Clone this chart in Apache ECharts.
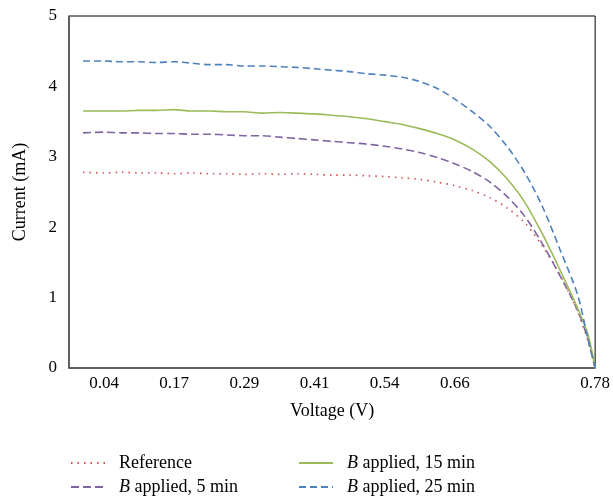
<!DOCTYPE html>
<html>
<head>
<meta charset="utf-8">
<script src="https://cdn.jsdelivr.net/npm/echarts@6/dist/echarts.min.js"></script>
<style>html,body{margin:0;padding:0;background:#fff}#c{width:613px;height:504px}</style>
</head>
<body>
<div id="c"></div>
<script>
// x positions in label-step units (0 => "0.04", 7 => "0.78")
var xPos = [-0.3, 0, 0.25, 0.5, 0.75, 1, 1.25, 1.5, 1.75, 2, 2.25, 2.5, 2.75, 3, 3.25, 3.5, 3.75, 4, 4.25, 4.5, 4.75, 5, 5.25, 5.5, 5.75, 6, 6.25, 6.5, 6.75, 6.9, 7];
var xTickPos = [0, 1, 2, 3, 4, 5, 7];
var xTickLabels = ['0.04', '0.17', '0.29', '0.41', '0.54', '0.66', '0.78'];
var yTicks = [0, 1, 2, 3, 4, 5];

var seriesNames = ['Reference', 'B applied, 5 min', 'B applied, 15 min', 'B applied, 25 min'];
var refVals = [2.78, 2.77, 2.78, 2.77, 2.77, 2.76, 2.77, 2.76, 2.76, 2.75, 2.76, 2.75, 2.76, 2.75, 2.74, 2.74, 2.73, 2.72, 2.70, 2.68, 2.64, 2.59, 2.52, 2.42, 2.27, 2.06, 1.73, 1.32, 0.80, 0.38, 0];
var b5Vals = [3.34, 3.35, 3.34, 3.34, 3.33, 3.33, 3.32, 3.32, 3.31, 3.30, 3.30, 3.28, 3.26, 3.24, 3.22, 3.20, 3.18, 3.15, 3.11, 3.06, 2.99, 2.90, 2.79, 2.64, 2.43, 2.15, 1.76, 1.31, 0.82, 0.40, 0];
var b15Vals = [3.65, 3.65, 3.65, 3.66, 3.66, 3.67, 3.65, 3.65, 3.64, 3.64, 3.62, 3.63, 3.62, 3.61, 3.59, 3.57, 3.54, 3.50, 3.46, 3.40, 3.33, 3.24, 3.11, 2.93, 2.68, 2.35, 1.90, 1.39, 0.85, 0.47, 0];
var b25Vals = [4.36, 4.36, 4.35, 4.35, 4.34, 4.35, 4.33, 4.31, 4.31, 4.29, 4.29, 4.28, 4.27, 4.25, 4.23, 4.21, 4.18, 4.16, 4.13, 4.07, 3.97, 3.82, 3.64, 3.43, 3.14, 2.77, 2.29, 1.68, 1.04, 0.40, 0];

var colors = ['#d0504d', '#8064a2', '#9bbb59', '#4f81bd'];
var dashTypes = [[1.5, 5], [8, 4], 'solid', [7, 4]];
var allVals = [refVals, b5Vals, b15Vals, b25Vals];

var FONT = 'Liberation Serif';

function pairs(vals) { return xPos.map(function (x, i) { return [x, vals[i]]; }); }

var series = seriesNames.map(function (n, k) {
  return {
    name: n, type: 'line', data: pairs(allVals[k]), symbol: 'none',
    smooth: 0.3,
    lineStyle: { color: colors[k], width: 1.6, type: dashTypes[k] },
    itemStyle: { color: colors[k] }
  };
});

function legendFmt(name) { return name.replace(/^B /, '{i|B} '); }
var legendText = {
  fontFamily: FONT, fontSize: 18, lineHeight: 18, color: '#000', padding: [0, 0, 0, 9],
  rich: { i: { fontFamily: FONT, fontSize: 18, lineHeight: 18, fontStyle: 'italic', color: '#000' } }
};

function mkLegend(names, left) {
  return { data: names, orient: 'vertical', left: left, top: 454, height: 50, padding: 0,
    itemWidth: 34, itemHeight: 12, itemGap: 6, formatter: legendFmt, textStyle: legendText,
    itemStyle: { opacity: 0 } };
}

var chart = echarts.init(document.getElementById('c'), null, { renderer: 'canvas' });
chart.setOption({
  animation: false,
  backgroundColor: '#fff',
  grid: { left: 69, right: 16, top: 16, bottom: 136, show: true, borderColor: '#000', borderWidth: 1, backgroundColor: 'transparent' },
  xAxis: {
    type: 'value', min: -0.5, max: 7,
    name: 'Voltage (V)', nameLocation: 'middle', nameGap: 34,
    nameTextStyle: { fontFamily: FONT, fontSize: 18, color: '#000' },
    axisLine: { show: true, onZero: false, lineStyle: { color: '#555', width: 1.5 } },
    axisTick: { show: false },
    splitLine: { show: false },
    axisLabel: {
      customValues: xTickPos, margin: 7,
      fontFamily: FONT, fontSize: 17, color: '#000',
      formatter: function (v) { var i = xTickPos.indexOf(v); return i >= 0 ? xTickLabels[i] : ''; }
    }
  },
  yAxis: {
    type: 'value', min: 0, max: 5, interval: 1,
    name: 'Current (mA)', nameLocation: 'middle', nameGap: 40,
    nameTextStyle: { fontFamily: FONT, fontSize: 18, color: '#000' },
    axisLine: { show: true, onZero: false, lineStyle: { color: '#555', width: 1.5 } },
    axisTick: { show: false },
    splitLine: { show: false },
    axisLabel: { margin: 12, fontFamily: FONT, fontSize: 17, color: '#000',
      formatter: function (v) { return String(v); } }
  },
  legend: [
    mkLegend([seriesNames[0], seriesNames[1]], 70),
    mkLegend([seriesNames[2], seriesNames[3]], 298)
  ],
  series: series
});
</script>
</body>
</html>
